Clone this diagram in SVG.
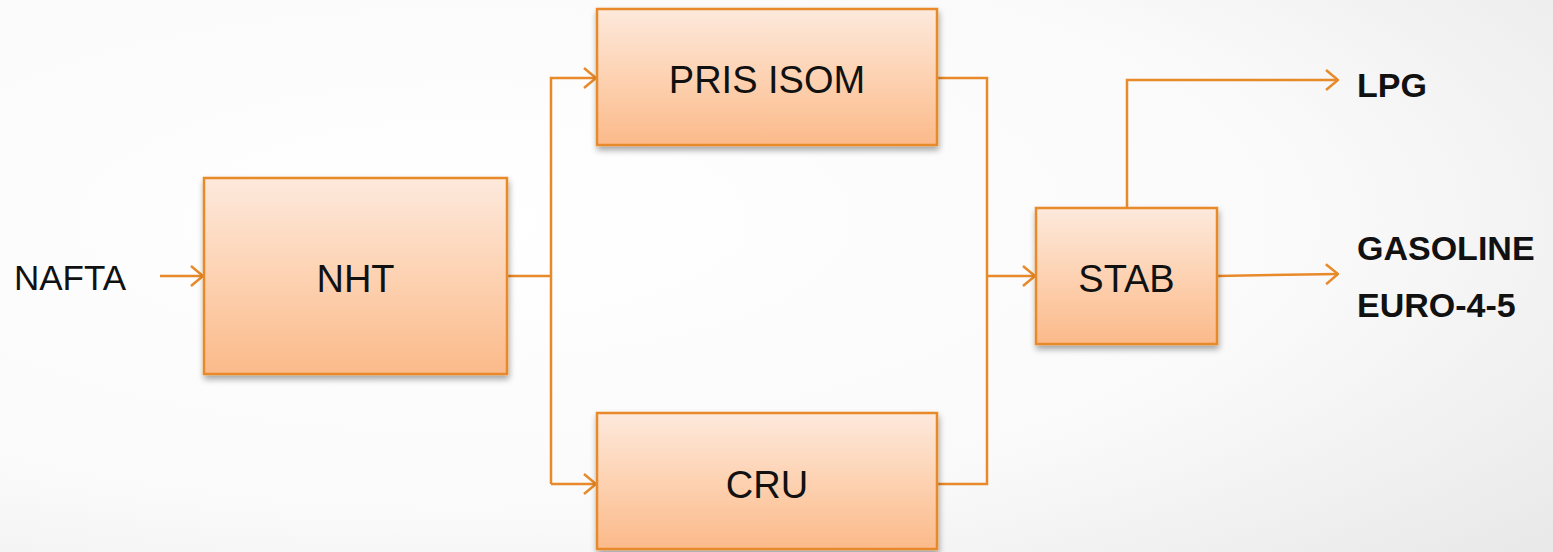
<svg xmlns="http://www.w3.org/2000/svg" width="1553" height="552" viewBox="0 0 1553 552">
<defs>
<radialGradient id="bg" cx="0.3" cy="0.4" r="0.9">
<stop offset="0" stop-color="#ffffff"/>
<stop offset="0.6" stop-color="#fafafa"/>
<stop offset="1" stop-color="#e9e9e9"/>
</radialGradient>
<linearGradient id="boxfill" x1="0" y1="0" x2="0" y2="1">
<stop offset="0" stop-color="#fde9dc"/>
<stop offset="0.5" stop-color="#fdd2b2"/>
<stop offset="1" stop-color="#fbba8a"/>
</linearGradient>
<filter id="shadow" x="-10%" y="-10%" width="125%" height="130%">
<feGaussianBlur in="SourceAlpha" stdDeviation="3"/>
<feOffset dx="1" dy="4" result="b"/>
<feComponentTransfer><feFuncA type="linear" slope="0.35"/></feComponentTransfer>
<feMerge><feMergeNode/><feMergeNode in="SourceGraphic"/></feMerge>
</filter>
<marker id="arr" viewBox="0 0 14 22" refX="13" refY="11" markerWidth="14" markerHeight="22" markerUnits="userSpaceOnUse" orient="auto">
<path d="M1 1 L13 11 L1 21" fill="none" stroke="#e8892a" stroke-width="2.5"/>
</marker>
</defs>
<style>
.box{fill:url(#boxfill);stroke:#e8892a;stroke-width:2.5;filter:url(#shadow)}
.lbl{font-family:"Liberation Sans",Arial,sans-serif;font-size:38px;fill:#111;text-anchor:middle}
.side{font-family:"Liberation Sans",Arial,sans-serif;font-size:35px;fill:#111}
.out{font-family:"Liberation Sans",Arial,sans-serif;font-size:34px;font-weight:bold;fill:#111}
.ln{fill:none;stroke:#e8892a;stroke-width:2.5}
</style>
<rect width="1553" height="552" fill="url(#bg)"/>
<g id="connectors">
<path class="ln" d="M160 276 H203" marker-end="url(#arr)"/>
<path class="ln" d="M507 276 H551"/>
<path class="ln" d="M551 484 V78 H596" marker-end="url(#arr)"/>
<path class="ln" d="M551 484 H596" marker-end="url(#arr)"/>
<path class="ln" d="M937 78 H987 V484 H937"/>
<path class="ln" d="M987 276 H1035" marker-end="url(#arr)"/>
<path class="ln" d="M1127 208 V80 H1338" marker-end="url(#arr)"/>
<path class="ln" d="M1217 276 L1338 274" marker-end="url(#arr)"/>
</g>
<g id="nafta"><text class="side" x="14" y="290">NAFTA</text></g>
<g id="nht"><rect class="box" x="204" y="178" width="303" height="196"/><text class="lbl" x="355.5" y="292">NHT</text></g>
<g id="pris"><rect class="box" x="597" y="9" width="340" height="136"/><text class="lbl" x="767" y="93">PRIS ISOM</text></g>
<g id="cru"><rect class="box" x="597" y="413" width="340" height="136"/><text class="lbl" x="767" y="498">CRU</text></g>
<g id="stab"><rect class="box" x="1036" y="208" width="181" height="136"/><text class="lbl" x="1126.5" y="292">STAB</text></g>
<g id="lpg"><text class="out" x="1357" y="97">LPG</text></g>
<g id="gasoline"><text class="out" x="1357" y="260">GASOLINE</text><text class="out" x="1357" y="317">EURO-4-5</text></g>
</svg>
